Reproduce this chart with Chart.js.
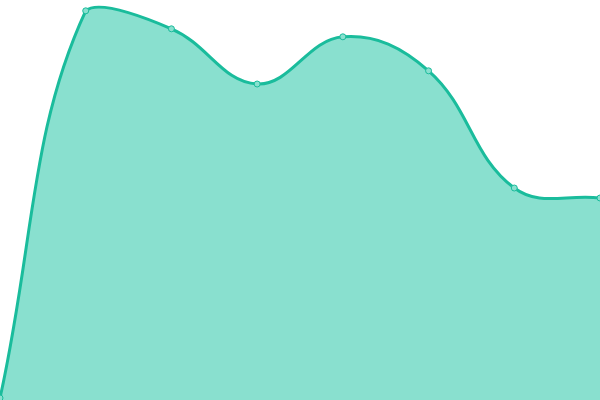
<!DOCTYPE html>
<html>
<head>
<meta charset="utf-8">
<script src="https://cdn.jsdelivr.net/npm/chart.js@4"></script>
<style>
  html, body { margin: 0; padding: 0; background: #fff; }
  #wrap { width: 600px; height: 400px; }
</style>
</head>
<body>
<div id="wrap"><canvas id="areaChart"></canvas></div>
<script>
const labels = ['A', 'B', 'C', 'D', 'E', 'F', 'G', 'H'];
const values = [0.5, 97.3, 92.8, 79, 90.8, 82.3, 53, 50.5];

const ctx = document.getElementById('areaChart').getContext('2d');
new Chart(ctx, {
    type: 'line',
    data: {
        labels: labels,
        datasets: [{
            data: values,
            borderColor: '#1abc9c',
            backgroundColor: '#89e0cf',
            borderWidth: 3,
            pointRadius: 3,
            pointBackgroundColor: '#89e0cf',
            pointBorderColor: '#1abc9c',
            pointBorderWidth: 1,
            tension: 0.4,
            fill: 'origin',
        }],
    },
    options: {
        responsive: true,
        maintainAspectRatio: false,
        animation: false,
        layout: { padding: 0, autoPadding: false },
        plugins: {
            legend: { display: false },
            tooltip: { enabled: false },
        },
        scales: {
            x: { display: false },
            y: { display: false, min: 0, max: 100 },
        },
    },
});
</script>
</body>
</html>
